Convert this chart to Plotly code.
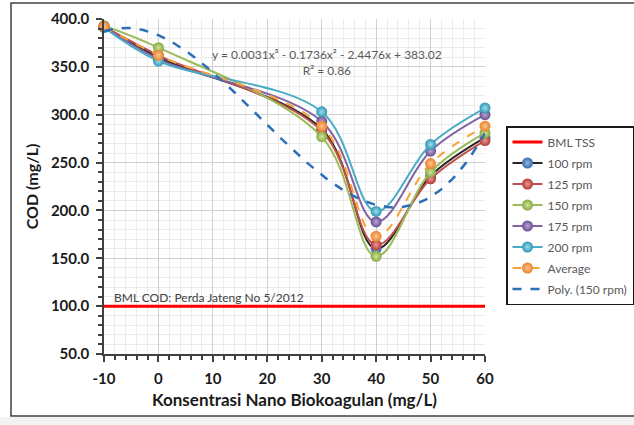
import numpy as np
import plotly.graph_objects as go

# ---- data ----
x_conc = [-10, 0, 30, 40, 50, 60]
rpm100 = [392, 360, 285, 160, 236, 276]
rpm125 = [392, 362, 283, 164, 233, 273]
rpm150 = [393, 370, 277, 152, 240, 281]
rpm175 = [392, 358, 293, 188, 262, 300]
rpm200 = [391, 356, 303, 199, 269, 307]
average = [392, 362, 288, 173, 249, 288]
bml_x = [-10, 60]
bml_y = [100, 100]
poly_coefs = [0.0031, -0.1736, -2.4476, 383.02]  # printed trendline (150 rpm)
x_tickvals = [-10, 0, 10, 20, 30, 40, 50, 60]
x_ticktext = ["-10", "0", "10", "20", "30", "40", "50", "60"]

FONT = "Lato"
fig = go.Figure()

fig.add_trace(go.Scatter(x=bml_x, y=bml_y, mode="lines", name="BML TSS",
                         line=dict(color="#ff0000", width=3), legendgroup="a"))

series = [
    ("100 rpm", rpm100, "#262626", "#3a6aa8", "#8fb4e3", "solid"),
    ("125 rpm", rpm125, "#c0504d", "#b03a37", "#ec9896", "solid"),
    ("150 rpm", rpm150, "#9bbb59", "#85a840", "#cfe49c", "solid"),
    ("175 rpm", rpm175, "#8064a2", "#6a4e8e", "#b9a5d6", "solid"),
    ("200 rpm", rpm200, "#4bacc6", "#2f97b4", "#9ddcec", "solid"),
    ("Average", average, "#f7a23a", "#e9822c", "#fcc48e", "dash"),
]
for i, (name, ys, lc, mc, gc, dash) in enumerate(series):
    fig.add_trace(go.Scatter(
        x=x_conc, y=ys, mode="lines+markers", name=name,
        line=dict(color=lc, width=2, shape="spline", dash=dash),
        marker=dict(size=11, color=mc, gradient=dict(type="radial", color=gc),
                    line=dict(width=0)),
        cliponaxis=False, legendgroup="g%d" % i))

xs_poly = np.linspace(-10, 60, 141)
fig.add_trace(go.Scatter(x=xs_poly, y=np.polyval(poly_coefs, xs_poly), mode="lines",
                         name="Poly. (150 rpm)",
                         line=dict(color="#2c6fb7", width=2.5, dash="dash"),
                         legendgroup="p"))

fig.add_annotation(x=31, y=355, xref="x", yref="y",
                   text="y = 0.0031x³ - 0.1736x² - 2.4476x + 383.02<br>R² = 0.86",
                   showarrow=False, align="center",
                   font=dict(family=FONT, size=12, color="#595959"))
fig.add_annotation(x=-8.6, y=109, xref="x", yref="y", xanchor="left", yanchor="middle",
                   text="BML COD: Perda Jateng No 5/2012", showarrow=False,
                   font=dict(family=FONT, size=12, color="#404040"))

# outer frame
fig.add_shape(type="rect", xref="paper", yref="paper",
              x0=(11 - 104) / 381, x1=(680 - 104) / 381,
              y0=(354 - 416) / 335, y1=(354 - 3) / 335,
              line=dict(color="#404040", width=1.5), fillcolor="rgba(0,0,0,0)",
              layer="below")
fig.add_shape(type="rect", xref="paper", yref="paper",
              x0=(0 - 104) / 381, x1=(680 - 104) / 381,
              y0=(354 - 440) / 335, y1=(354 - 417) / 335,
              line=dict(width=0), fillcolor="#f2f2f2", layer="below")

axis_common = dict(
    showgrid=True, gridcolor="#d0d0d0", gridwidth=1,
    showline=True, linecolor="#404040", linewidth=1.5,
    ticks="outside", ticklen=6, tickcolor="#404040", tickwidth=1.5,
    tickfont=dict(family=FONT, size=15, color="#1a1a1a", weight="bold"),
    zeroline=False,
)

fig.update_layout(
    width=634, height=425,
    margin=dict(l=104, r=149, t=19, b=71, autoexpand=False),
    paper_bgcolor="white", plot_bgcolor="white",
    font=dict(family=FONT),
    xaxis=dict(range=[-10, 60], tickvals=x_tickvals, ticktext=x_ticktext,
               minor=dict(dtick=2, tick0=-10, showgrid=True, gridcolor="#ececec",
                          ticks="outside", ticklen=4, tickcolor="#404040"),
               ticklabelstandoff=4,
               title=dict(text="Konsentrasi Nano Biokoagulan (mg/L)",
                          font=dict(family=FONT, size=17, color="#1a1a1a", weight="bold"),
                          standoff=8),
               **axis_common),
    yaxis=dict(range=[50, 400], dtick=50, tickformat=".1f",
               minor=dict(dtick=10, showgrid=True, gridcolor="#ececec",
                          ticks="outside", ticklen=4, tickcolor="#404040"),
               ticklabelstandoff=4,
               title=dict(text="COD (mg/L)",
                          font=dict(family=FONT, size=16, color="#1a1a1a", weight="bold"),
                          standoff=8),
               **axis_common),
    legend=dict(x=(506 - 104) / 381, y=(354 - 126) / 335, xanchor="left", yanchor="top",
                bordercolor="#1a1a1a", borderwidth=1.5, bgcolor="white",
                font=dict(family=FONT, size=12, color="#595959"),
                tracegroupgap=2),
    showlegend=True,
)

fig.write_html("out.html")
